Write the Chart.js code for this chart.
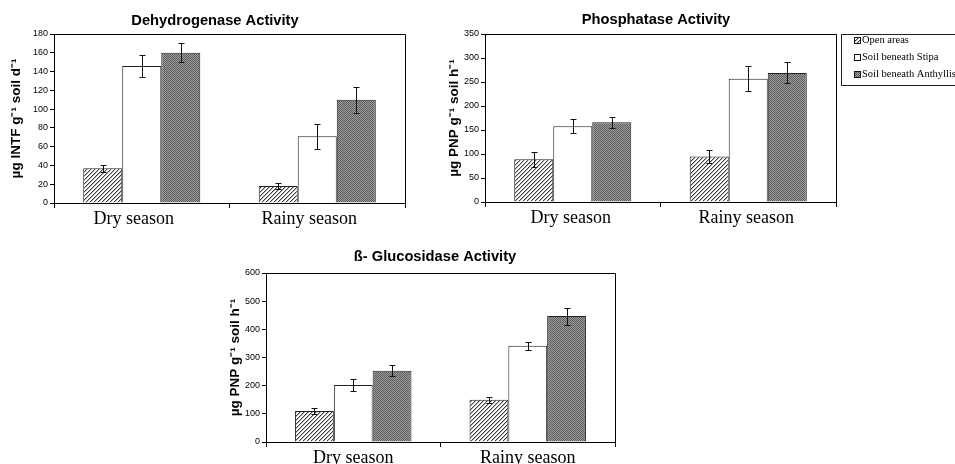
<!DOCTYPE html>
<html><head><meta charset="utf-8">
<script src="https://cdn.jsdelivr.net/npm/chart.js@4/dist/chart.umd.min.js"></script>
<style>
html,body{margin:0;padding:0;background:#fff;width:955px;height:464px;overflow:hidden}
body{position:relative}
canvas{position:absolute}
</style></head><body>
<canvas id="c1" width="440" height="230" style="left:0;top:0"></canvas>
<canvas id="c2" width="515" height="230" style="left:440px;top:0"></canvas>
<canvas id="c3" width="480" height="232" style="left:200px;top:232px"></canvas>
<script>
const seasons = ['Dry season', 'Rainy season'];
const seriesNames = ['Open areas', 'Soil beneath Stipa', 'Soil beneath Anthyllis'];

const dehOpen = [37, 18];
const dehStipa = [146, 71];
const dehAnth = [160, 110];
const dehOpenErr = [4, 3];
const dehStipaErr = [12, 13];
const dehAnthErr = [10, 14];

const phoOpen = [89, 95];
const phoStipa = [158, 257];
const phoAnth = [166, 269];
const phoOpenErr = [16, 13];
const phoStipaErr = [15, 26];
const phoAnthErr = [11, 22];

const gluOpen = [110, 150];
const gluStipa = [202, 342];
const gluAnth = [253, 447];
const gluOpenErr = [10, 10];
const gluStipaErr = [20, 14];
const gluAnthErr = [20, 30];

const dehTicks = [0, 20, 40, 60, 80, 100, 120, 140, 160, 180];
const phoTicks = [0, 50, 100, 150, 200, 250, 300, 350];
const gluTicks = [0, 100, 200, 300, 400, 500, 600];

const titles = ['Dehydrogenase Activity', 'Phosphatase Activity', 'ß- Glucosidase Activity'];
const yTitles = ['µg INTF g⁻¹ soil d⁻¹', 'µg PNP g⁻¹ soil h⁻¹', 'µg PNP g⁻¹ soil h⁻¹'];

const patStore = {};

function makePatterns(ctx) {
  const a = document.createElement('canvas'); a.width = 4; a.height = 4;
  const ax = a.getContext('2d');
  ax.fillStyle = '#ffffff'; ax.fillRect(0, 0, 4, 4);
  ax.fillStyle = '#3a3a3a';
  for (let i = 0; i < 4; i++) { ax.fillRect(3 - i, i, 1, 1); }
  ax.fillStyle = '#bbbbbb';
  for (let i = 0; i < 4; i++) { ax.fillRect((4 - i) % 4, i, 1, 1); }
  const b = document.createElement('canvas'); b.width = 2; b.height = 2;
  const bx = b.getContext('2d');
  bx.fillStyle = '#9c9c9c'; bx.fillRect(0, 0, 2, 2);
  bx.fillStyle = '#5e5e5e'; bx.fillRect(0, 0, 1, 1); bx.fillRect(1, 1, 1, 1);
  return [ctx.createPattern(a, 'repeat'), '#ffffff', ctx.createPattern(b, 'repeat')];
}

const errorBars = {
  id: 'errorBars',
  afterDatasetsDraw(chart) {
    const ctx = chart.ctx, ys = chart.scales.y;
    ctx.save();
    ctx.strokeStyle = '#111'; ctx.lineWidth = 1;
    chart.data.datasets.forEach((ds, i) => {
      const meta = chart.getDatasetMeta(i);
      meta.data.forEach((bar, j) => {
        const v = ds.data[j], e = ds.errors[j];
        const x = Math.round(bar.x) + 0.5;
        const yt = Math.round(ys.getPixelForValue(v + e)) + 0.5;
        const yb = Math.round(ys.getPixelForValue(v - e)) + 0.5;
        ctx.beginPath();
        ctx.moveTo(x, yt); ctx.lineTo(x, yb);
        ctx.moveTo(x - 3, yt); ctx.lineTo(x + 3, yt);
        ctx.moveTo(x - 3, yb); ctx.lineTo(x + 3, yb);
        ctx.stroke();
      });
    });
    ctx.restore();
  }
};

const frame = {
  id: 'frame',
  afterDraw(chart, args, opts) {
    const ctx = chart.ctx, a = chart.chartArea;
    ctx.save();
    ctx.strokeStyle = '#000'; ctx.lineWidth = 1;
    ctx.beginPath();
    ctx.moveTo(Math.round(a.left) + 0.5, Math.round(a.top) + 0.5);
    ctx.lineTo(Math.round(a.right) + 0.5, Math.round(a.top) + 0.5);
    ctx.lineTo(Math.round(a.right) + 0.5, Math.round(a.bottom) + 0.5);
    ctx.stroke();
    ctx.fillStyle = '#000';
    ctx.font = 'bold 14.7px "Liberation Sans", Arial, sans-serif';
    ctx.textAlign = 'center'; ctx.textBaseline = 'middle';
    ctx.fillText(opts.text, opts.x, opts.y);
    const pats = patStore[chart.canvas.id];
    if (opts.legend && pats) {
      const L = opts.legend;
      ctx.strokeStyle = '#222';
      ctx.strokeRect(L.x + 0.5, L.y + 0.5, 200, L.h);
      ctx.font = '10.5px "Liberation Serif", "Times New Roman", serif';
      ctx.textAlign = 'left';
      seriesNames.forEach((n, i) => {
        const cy = L.y + 6.5 + i * 17;
        ctx.fillStyle = pats[i];
        ctx.fillRect(L.x + 13.5, cy - 3, 6, 6);
        ctx.strokeStyle = '#111';
        ctx.strokeRect(L.x + 13.5, cy - 3, 6, 6);
        ctx.fillStyle = '#000';
        ctx.fillText(n, L.x + 21, cy);
      });
    }
    ctx.restore();
  }
};

function build(id, cfg) {
  const canvas = document.getElementById(id);
  const ctx = canvas.getContext('2d');
  const pats = makePatterns(ctx);
  patStore[id] = pats;
  const W = canvas.width, H = canvas.height;
  const mk = (label, data, errs, i) => ({
    label, data, errors: errs,
    backgroundColor: pats[i], borderColor: '#222', borderWidth: 1,
    categoryPercentage: 0.667, barPercentage: 1
  });
  const ticks = cfg.ticks;
  return new Chart(ctx, {
    type: 'bar',
    data: {
      labels: seasons,
      datasets: [
        mk(seriesNames[0], cfg.d[0], cfg.e[0], 0),
        mk(seriesNames[1], cfg.d[1], cfg.e[1], 1),
        mk(seriesNames[2], cfg.d[2], cfg.e[2], 2)
      ]
    },
    options: {
      responsive: false, animation: false,
      layout: { padding: { top: cfg.top, right: W - cfg.right, left: 0, bottom: 0 } },
      plugins: {
        legend: { display: false }, tooltip: { enabled: false },
        frame: { text: cfg.title, x: cfg.tx, y: cfg.ty, legend: cfg.legend }
      },
      scales: {
        x: {
          grid: { display: true, drawOnChartArea: false, drawTicks: true, tickLength: 5, color: '#000', offset: true },
          border: { color: '#000', width: 1 },
          ticks: { color: '#000', font: { family: '"Liberation Serif", "Times New Roman", serif', size: 18 }, padding: 0, maxRotation: 0, labelOffset: cfg.lo },
          afterFit(s) { s.height = H - cfg.bottom; }
        },
        y: {
          min: ticks[0], max: ticks[ticks.length - 1],
          afterBuildTicks(s) { s.ticks = ticks.map(v => ({ value: v })); },
          ticks: { color: '#000', font: { family: '"Liberation Sans", Arial, sans-serif', size: 9 }, padding: 2 },
          grid: { drawOnChartArea: false, drawTicks: true, tickLength: 4, color: '#000' },
          border: { color: '#000', width: 1 },
          title: { display: true, text: cfg.yTitle, color: '#000',
            font: { family: '"Liberation Sans", Arial, sans-serif', size: 13.5, weight: 'bold' },
            padding: { top: cfg.tp, bottom: 0 } },
          afterFit(s) { s.width = cfg.left; }
        }
      }
    },
    plugins: [errorBars, frame]
  });
}

build('c1', { d: [dehOpen, dehStipa, dehAnth], e: [dehOpenErr, dehStipaErr, dehAnthErr], ticks: dehTicks,
  left: 54, right: 405, top: 34, bottom: 203, title: titles[0], tx: 215, ty: 21, yTitle: yTitles[0], tp: 8, lo: -8 });
build('c2', { d: [phoOpen, phoStipa, phoAnth], e: [phoOpenErr, phoStipaErr, phoAnthErr], ticks: phoTicks,
  left: 45, right: 396, top: 34, bottom: 202, title: titles[1], tx: 216, ty: 20, yTitle: yTitles[1], tp: 6, lo: -2,
  legend: { x: 401, y: 34, h: 51 } });
build('c3', { d: [gluOpen, gluStipa, gluAnth], e: [gluOpenErr, gluStipaErr, gluAnthErr], ticks: gluTicks,
  left: 66, right: 415, top: 41, bottom: 210, title: titles[2], tx: 235, ty: 25, yTitle: yTitles[2], tp: 27, lo: 0 });
</script>
</body></html>
